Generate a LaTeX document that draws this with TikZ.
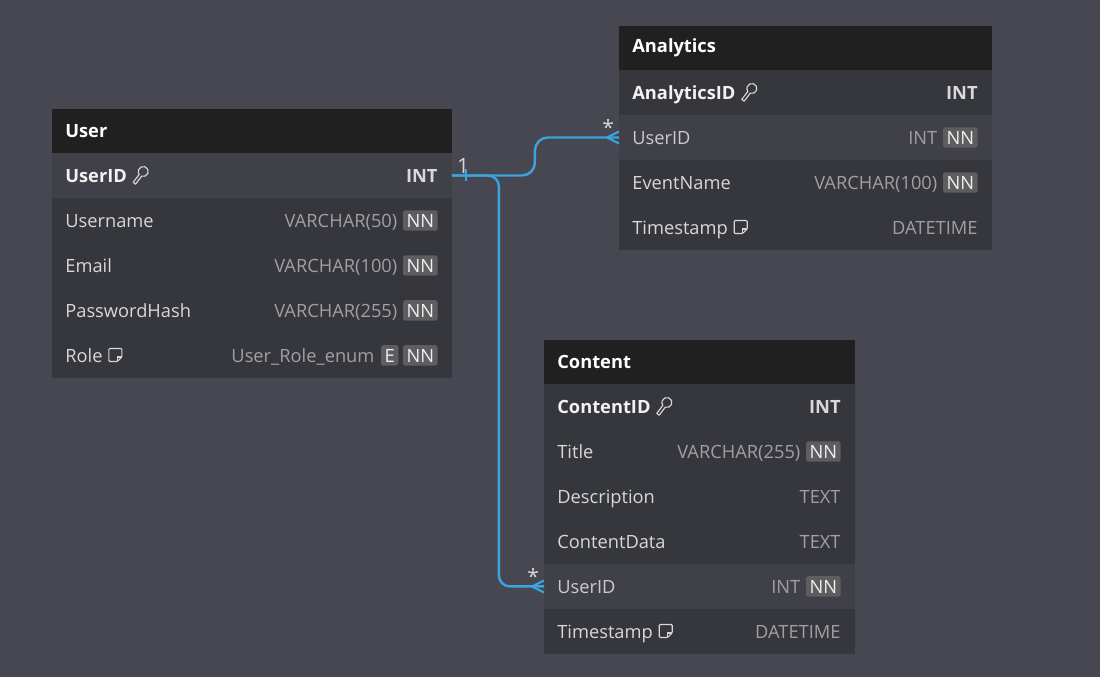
\documentclass[tikz,border=0pt]{standalone}
\usepackage{fontspec}
\setmainfont{Open Sans}
\usetikzlibrary{positioning}

\definecolor{canvas}{HTML}{464750}
\definecolor{headbg}{HTML}{202021}
\definecolor{rowbg}{HTML}{36373D}
\definecolor{rowhl}{HTML}{404148}
\definecolor{namecol}{HTML}{D8D8D8}
\definecolor{typecol}{HTML}{A0A0A4}
\definecolor{badgebg}{HTML}{5E5E61}
\definecolor{relblue}{HTML}{3BA3DE}

\tikzset{
  tablehead/.style={fill=headbg, text=white, font=\bfseries, minimum height=0.88cm,
    inner sep=0, outer sep=0, anchor=north west},
  headname/.style={text=white, font=\bfseries, inner sep=0},
  fieldrow/.style={fill=rowbg, minimum height=0.9cm, inner sep=0, outer sep=0},
  keyrow/.style={fieldrow, fill=rowhl},
  fname/.style={text=namecol, inner sep=0, text height=0.9em, text depth=0.18em},
  pkname/.style={fname, font=\bfseries, text=white!90!gray},
  ftype/.style={text=typecol, inner sep=0, text height=0.9em, text depth=0.18em},
  pktype/.style={ftype, font=\bfseries, text=white!70!gray},
  badge/.style={fill=badgebg, text=white!88!gray, rounded corners=1pt, inner xsep=0.07cm,
    inner ysep=0.04cm, text height=0.82em, text depth=0.08em},
  iconline/.style={draw=namecol, line width=0.65pt},
  rel/.style={draw=relblue, line width=1.4pt},
  card/.style={text=namecol, inner sep=1pt}
}

% small glyphs after a field name
\newcommand{\keyicon}[1]{%
  \draw[iconline, line join=round, shift={(#1.east)}] (0.2386cm,0.0219cm) -- (0.1182cm,-0.1379cm)
    -- (0.1662cm,-0.1741cm) -- (0.2866cm,-0.0143cm)
    arc[start angle=250.5, end angle=575.5, radius=0.1cm] -- cycle;}
\newcommand{\noteicon}[1]{%
  \draw[iconline, rounded corners=0.6pt, shift={(#1.east)}]
    (6,-7) -- (19,-7) -- (19,1.5) -- (14.5,6) -- (6,6) -- cycle;
  \draw[iconline, shift={(#1.east)}] (14.5,6) -- (14.5,1.5) -- (19,1.5);}
% many side of a relation
\newcommand{\crowfoot}[1]{%
  \draw[rel, line width=1.2pt] ([xshift=-0.24cm]#1.west) -- ([yshift=0.12cm]#1.west)
    ([xshift=-0.24cm]#1.west) -- ([yshift=-0.12cm]#1.west);}

\begin{document}
\fontsize{10.4}{12.5}\selectfont
\begin{tikzpicture}[x=0.02cm, y=-0.02cm]
  \fill[canvas] (0,0) rectangle (1100,677);
  \useasboundingbox (0,0) rectangle (1100,677);

  % User
  \node[tablehead, minimum width=8cm] (u-head) at (52,109) {};
  \node[headname, right=0.26cm of u-head.west] {User};
  \node[keyrow, minimum width=8cm, below=0pt of u-head] (u-id) {};
  \node[fieldrow, minimum width=8cm, below=0pt of u-id] (u-un) {};
  \node[fieldrow, minimum width=8cm, below=0pt of u-un] (u-em) {};
  \node[fieldrow, minimum width=8cm, below=0pt of u-em] (u-pw) {};
  \node[fieldrow, minimum width=8cm, below=0pt of u-pw] (u-ro) {};

  \node[pkname, right=0.26cm of u-id.west] (u-id-n) {UserID};
  \keyicon{u-id-n}
  \node[pktype, left=0.28cm of u-id.east] {INT};
  \node[fname, right=0.26cm of u-un.west] {Username};
  \node[badge, left=0.28cm of u-un.east] (u-un-nn) {NN};
  \node[ftype, left=0.1cm of u-un-nn] {VARCHAR(50)};
  \node[fname, right=0.26cm of u-em.west] {Email};
  \node[badge, left=0.28cm of u-em.east] (u-em-nn) {NN};
  \node[ftype, left=0.1cm of u-em-nn] {VARCHAR(100)};
  \node[fname, right=0.26cm of u-pw.west] {PasswordHash};
  \node[badge, left=0.28cm of u-pw.east] (u-pw-nn) {NN};
  \node[ftype, left=0.1cm of u-pw-nn] {VARCHAR(255)};
  \node[fname, right=0.26cm of u-ro.west] (u-ro-n) {Role};
  \noteicon{u-ro-n}
  \node[badge, left=0.28cm of u-ro.east] (u-ro-nn) {NN};
  \node[badge, left=0.08cm of u-ro-nn] (u-ro-e) {E};
  \node[ftype, left=0.12cm of u-ro-e] {User\_Role\_enum};

  % Analytics
  \node[tablehead, minimum width=7.46cm] (a-head) at (619,26) {};
  \node[headname, right=0.26cm of a-head.west] {Analytics};
  \node[fieldrow, minimum width=7.46cm, below=0pt of a-head] (a-id) {};
  \node[keyrow, minimum width=7.46cm, below=0pt of a-id] (a-uid) {};
  \node[fieldrow, minimum width=7.46cm, below=0pt of a-uid] (a-ev) {};
  \node[fieldrow, minimum width=7.46cm, below=0pt of a-ev] (a-ts) {};

  \node[pkname, right=0.26cm of a-id.west] (a-id-n) {AnalyticsID};
  \keyicon{a-id-n}
  \node[pktype, left=0.28cm of a-id.east] {INT};
  \node[fname, text=namecol!85!gray, right=0.26cm of a-uid.west] {UserID};
  \node[badge, left=0.28cm of a-uid.east] (a-uid-nn) {NN};
  \node[ftype, left=0.1cm of a-uid-nn] {INT};
  \node[fname, right=0.26cm of a-ev.west] {EventName};
  \node[badge, left=0.28cm of a-ev.east] (a-ev-nn) {NN};
  \node[ftype, left=0.1cm of a-ev-nn] {VARCHAR(100)};
  \node[fname, right=0.26cm of a-ts.west] (a-ts-n) {Timestamp};
  \noteicon{a-ts-n}
  \node[ftype, left=0.28cm of a-ts.east] {DATETIME};

  % Content
  \node[tablehead, minimum width=6.22cm] (c-head) at (544,340) {};
  \node[headname, right=0.26cm of c-head.west] {Content};
  \node[fieldrow, minimum width=6.22cm, below=0pt of c-head] (c-id) {};
  \node[fieldrow, minimum width=6.22cm, below=0pt of c-id] (c-ti) {};
  \node[fieldrow, minimum width=6.22cm, below=0pt of c-ti] (c-de) {};
  \node[fieldrow, minimum width=6.22cm, below=0pt of c-de] (c-cd) {};
  \node[keyrow, minimum width=6.22cm, below=0pt of c-cd] (c-uid) {};
  \node[fieldrow, minimum width=6.22cm, below=0pt of c-uid] (c-ts) {};

  \node[pkname, right=0.26cm of c-id.west] (c-id-n) {ContentID};
  \keyicon{c-id-n}
  \node[pktype, left=0.28cm of c-id.east] {INT};
  \node[fname, right=0.26cm of c-ti.west] {Title};
  \node[badge, left=0.28cm of c-ti.east] (c-ti-nn) {NN};
  \node[ftype, left=0.1cm of c-ti-nn] {VARCHAR(255)};
  \node[fname, right=0.26cm of c-de.west] {Description};
  \node[ftype, left=0.28cm of c-de.east] {TEXT};
  \node[fname, right=0.26cm of c-cd.west] {ContentData};
  \node[ftype, left=0.28cm of c-cd.east] {TEXT};
  \node[fname, text=namecol!85!gray, right=0.26cm of c-uid.west] {UserID};
  \node[badge, left=0.28cm of c-uid.east] (c-uid-nn) {NN};
  \node[ftype, left=0.1cm of c-uid-nn] {INT};
  \node[fname, right=0.26cm of c-ts.west] (c-ts-n) {Timestamp};
  \noteicon{c-ts-n}
  \node[ftype, left=0.28cm of c-ts.east] {DATETIME};

  % relations
  \draw[rel, rounded corners=0.26cm] (u-id.east) -- ++(83,0) |- (a-uid.west);
  \draw[rel, rounded corners=0.22cm] (u-id.east) -- ++(47,0) |- (c-uid.west);
  \draw[rel, line width=1.2pt] ([xshift=0.28cm,yshift=0.12cm]u-id.east)
    -- ([xshift=0.28cm,yshift=-0.12cm]u-id.east);
  \crowfoot{a-uid}
  \crowfoot{c-uid}
  \node[card, font=\large, above right=0.0cm and 0.06cm of u-id.east] {1};
  \node[card, font=\large, above left=0.0cm and 0.06cm of a-uid.west] {*};
  \node[card, font=\large, above left=0.0cm and 0.06cm of c-uid.west] {*};
\end{tikzpicture}
\end{document}
